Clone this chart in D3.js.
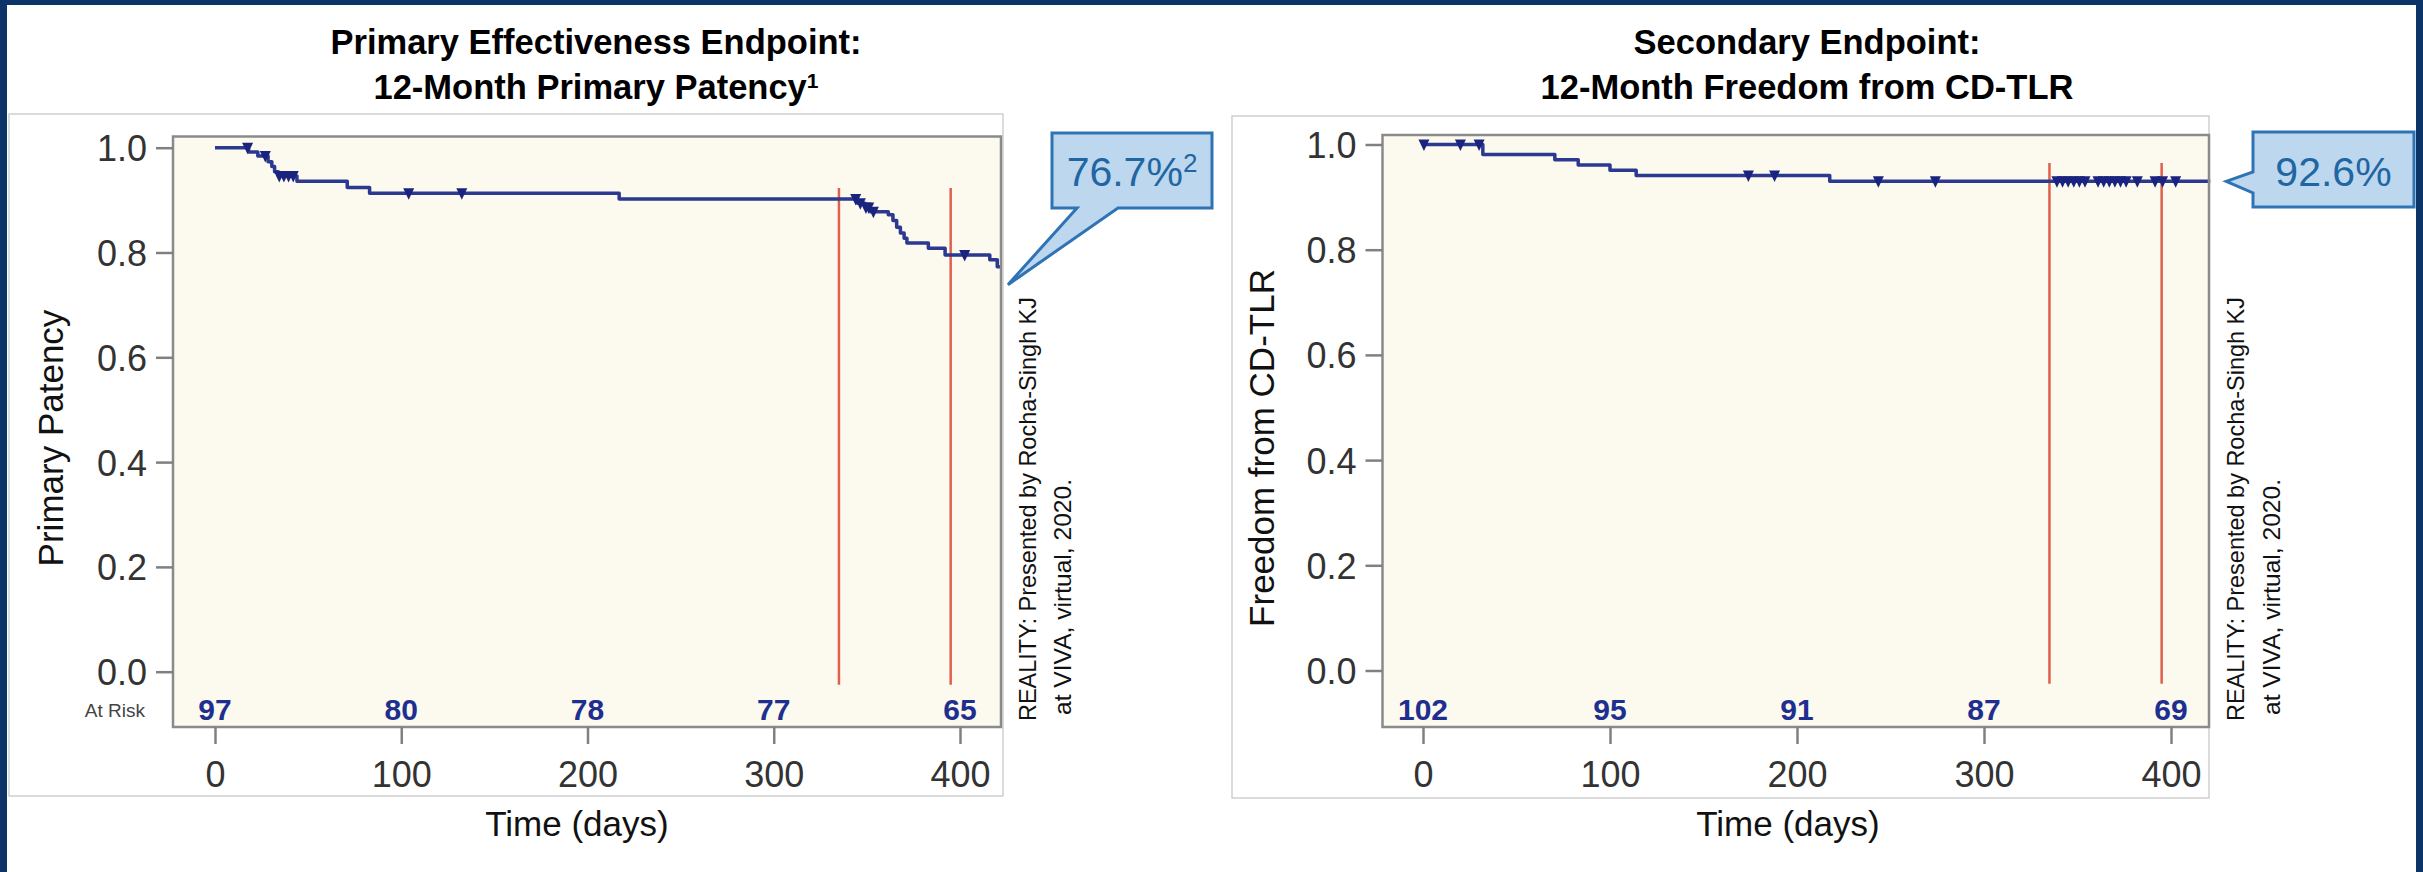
<!DOCTYPE html>
<html><head><meta charset="utf-8">
<script src="https://cdn.jsdelivr.net/npm/d3@7/dist/d3.min.js"></script>
<style>
html,body{margin:0;padding:0;background:#fff;}
svg{display:block;font-family:"Liberation Sans",Arial,Helvetica,sans-serif;}
</style></head><body>
<svg id="c" width="2423" height="872"></svg>
<script>
// ---------- DATA ----------
const riskDays = [0, 100, 200, 300, 400];
const yTicks = [0, 0.2, 0.4, 0.6, 0.8, 1.0];
const windowDays = [335, 395];

// Chart 1: primary patency (Kaplan-Meier steps)
const patencyStepDays = [0, 18, 23, 28.5, 30.5, 32, 34, 44, 71, 83, 217, 345, 349, 352, 361.5, 364, 366, 368, 370, 371.5, 383, 392, 416, 420];
const patencySurvival = [1.000, 0.992, 0.984, 0.973, 0.964, 0.954, 0.946, 0.936, 0.924, 0.913, 0.902, 0.894, 0.886, 0.878, 0.872, 0.861, 0.848, 0.837, 0.827, 0.818, 0.808, 0.795, 0.786, 0.773];
const patencyEndDay = 422;
const patencyCensorDays = [17.5, 27, 34.5, 37, 39.5, 42, 104, 132.5, 344, 346.5, 349.5, 351, 353.5, 402.5];
const patencyAtRisk = [97, 80, 78, 77, 65];
const patencyWindowTop = 0.923;
const patencyLabel = "76.7%";
const patencyLabelSup = "2";

// Chart 2: freedom from CD-TLR
const tlrStepDays = [0, 32, 70.5, 83, 100, 114, 217.5];
const tlrSurvival = [1.000, 0.981, 0.971, 0.961, 0.951, 0.941, 0.930];
const tlrEndDay = 421;
const tlrCensorDays = [0.5, 20, 30, 174, 188, 243.5, 274, 339, 342, 345, 348, 351, 354, 361, 364, 367, 370, 373, 376, 382, 391.5, 395.5, 402.5];
const tlrAtRisk = [102, 95, 91, 87, 69];
const tlrWindowTop = 0.965;
const tlrLabel = "92.6%";
const windowBottom = -0.025;

// ---------- LAYOUT ----------
const svg = d3.select("#c");
const NAVY = "#0c3466";
svg.append("rect").attr("width", 2423).attr("height", 872).attr("fill", "#fff");

const panels = [
  {
    box: [9, 114, 1003, 796],
    plot: [173, 136.5, 1001, 727],
    xr: [215, 960], yr: [671.7, 147.7],
    title1: "Primary Effectiveness Endpoint:", title2: "12-Month Primary Patency", sup: "1", titleX: 596,
    yTitle: "Primary Patency", yTitleX: 63, yTitleY: 438, xTitleX: 577,
    days: patencyStepDays, surv: patencySurvival, endDay: patencyEndDay, censor: patencyCensorDays,
    atRisk: patencyAtRisk, showAtRiskLabel: true, winTop: patencyWindowTop,
    note: [1036, 1071],
    callout: {type: "down", box: [1052, 133, 1212, 208], base: [1077, 1118], label: patencyLabel, sup: patencyLabelSup}
  },
  {
    box: [1232, 116, 2209, 798],
    plot: [1382.5, 135, 2209, 727],
    xr: [1423, 2171], yr: [670.5, 144.5],
    title1: "Secondary Endpoint:", title2: "12-Month Freedom from CD-TLR", sup: null, titleX: 1807,
    yTitle: "Freedom from CD-TLR", yTitleX: 1274, yTitleY: 448, xTitleX: 1788,
    days: tlrStepDays, surv: tlrSurvival, endDay: tlrEndDay, censor: tlrCensorDays,
    atRisk: tlrAtRisk, showAtRiskLabel: false, winTop: tlrWindowTop,
    note: [2244, 2280],
    callout: {type: "left", box: [2253, 132, 2414, 207], base: [172, 193], label: tlrLabel, sup: null}
  }
];

panels.forEach(p => {
  const g = svg.append("g");
  const [bx0, by0, bx1, by1] = p.box;
  g.append("rect").attr("x", bx0).attr("y", by0).attr("width", bx1 - bx0).attr("height", by1 - by0)
    .attr("fill", "#fff").attr("stroke", "#cfcfcf").attr("stroke-width", 1.5);

  const [px0, py0, px1, py1] = p.plot;
  const x = d3.scaleLinear().domain([0, 400]).range(p.xr);
  const y = d3.scaleLinear().domain([0, 1]).range(p.yr);

  // titles
  g.append("text").attr("x", p.titleX).attr("y", 54).attr("text-anchor", "middle")
    .attr("font-size", 34.5).attr("font-weight", "bold").attr("fill", "#000").text(p.title1);
  const t2 = g.append("text").attr("x", p.titleX).attr("y", 99).attr("text-anchor", "middle")
    .attr("font-size", 34.5).attr("font-weight", "bold").attr("fill", "#000");
  t2.append("tspan").text(p.title2);
  if (p.sup) t2.append("tspan").attr("font-size", 21).attr("dy", -11).text(p.sup);

  // plot background
  g.append("rect").attr("x", px0).attr("y", py0).attr("width", px1 - px0).attr("height", py1 - py0)
    .attr("fill", "#fcf9ee");

  // window lines
  windowDays.forEach(d => {
    g.append("line").attr("x1", x(d)).attr("x2", x(d))
      .attr("y1", y(p.winTop)).attr("y2", y(windowBottom))
      .attr("stroke", "#e0604c").attr("stroke-width", 2.5);
  });

  // KM curve
  const pts = p.days.map((d, i) => [d, p.surv[i]]);
  pts.push([p.endDay, p.surv[p.surv.length - 1]]);
  const line = d3.line().x(d => x(d[0])).y(d => y(d[1])).curve(d3.curveStepAfter);
  g.append("path").attr("d", line(pts)).attr("fill", "none")
    .attr("stroke", "#2b3990").attr("stroke-width", 3.5).attr("stroke-linejoin", "round");

  // censor marks
  const survAt = d => p.surv[Math.max(0, d3.bisectRight(p.days, d) - 1)];
  g.selectAll(null).data(p.censor).join("path")
    .attr("transform", d => `translate(${x(d)},${y(survAt(d))})`)
    .attr("d", "M-5.5,-5L5.5,-5L0,6.5Z")
    .attr("fill", "#1a237e");

  // frame
  g.append("rect").attr("x", px0).attr("y", py0).attr("width", px1 - px0).attr("height", py1 - py0)
    .attr("fill", "none").attr("stroke", "#8a8a8a").attr("stroke-width", 2.5);

  // y axis
  const ya = g.append("g").attr("transform", `translate(${px0},0)`)
    .call(d3.axisLeft(y).tickValues(yTicks).tickFormat(d3.format(".1f")).tickSize(17));
  ya.select(".domain").remove();
  ya.selectAll("line").attr("stroke", "#808080").attr("stroke-width", 2.5);
  ya.selectAll("text").attr("x", -26).attr("dy", "0.36em").attr("font-size", 36)
    .attr("fill", "#333").attr("font-family", null);

  // x axis
  const xa = g.append("g").attr("transform", `translate(0,${py1})`)
    .call(d3.axisBottom(x).tickValues(riskDays).tickFormat(d3.format("d")).tickSize(17));
  xa.select(".domain").remove();
  xa.selectAll("line").attr("stroke", "#808080").attr("stroke-width", 2.5);
  xa.selectAll("text").attr("y", 60).attr("dy", 0).attr("font-size", 36)
    .attr("fill", "#333").attr("font-family", null);

  // at risk numbers
  g.selectAll(null).data(riskDays).join("text")
    .attr("x", d => x(d)).attr("y", 720).attr("text-anchor", "middle")
    .attr("font-size", 30).attr("font-weight", "bold").attr("fill", "#1f2f8f")
    .text((d, i) => p.atRisk[i]);
  if (p.showAtRiskLabel) {
    g.append("text").attr("x", 145).attr("y", 717).attr("text-anchor", "end")
      .attr("font-size", 19).attr("fill", "#444").text("At Risk");
  }

  // axis titles
  g.append("text").attr("transform", `translate(${p.yTitleX},${p.yTitleY}) rotate(-90)`)
    .attr("text-anchor", "middle").attr("font-size", 35).attr("fill", "#111").text(p.yTitle);
  g.append("text").attr("x", p.xTitleX).attr("y", 836).attr("text-anchor", "middle")
    .attr("font-size", 35).attr("fill", "#111").text("Time (days)");

  // source note
  const nt = g.append("g").attr("font-size", 24).attr("fill", "#111");
  nt.append("text").attr("transform", `translate(${p.note[0]},721) rotate(-90)`)
    .attr("textLength", 424).attr("lengthAdjust", "spacingAndGlyphs")
    .text("REALITY: Presented by Rocha-Singh KJ");
  nt.append("text").attr("transform", `translate(${p.note[1]},715) rotate(-90)`)
    .attr("textLength", 236).attr("lengthAdjust", "spacingAndGlyphs")
    .text("at VIVA, virtual,  2020.");

  // callout anchored to the curve end
  const c = p.callout;
  const tip = [x(p.endDay) + (c.type === "down" ? 7 : 16), y(p.surv[p.surv.length - 1]) + (c.type === "down" ? 18 : 0)];
  const [cx0, cy0, cx1, cy1] = c.box;
  let poly;
  if (c.type === "down") {
    poly = [[cx0, cy0], [cx1, cy0], [cx1, cy1], [c.base[1], cy1], tip, [c.base[0], cy1], [cx0, cy1]];
  } else {
    poly = [[cx0, cy0], [cx1, cy0], [cx1, cy1], [cx0, cy1], [cx0, c.base[1]], tip, [cx0, c.base[0]]];
  }
  g.append("path").attr("d", "M" + poly.map(q => q.join(",")).join("L") + "Z")
    .attr("fill", "#bdd7ee").attr("stroke", "#2e74b5").attr("stroke-width", 3).attr("stroke-linejoin", "miter");
  const ct = g.append("text").attr("x", (cx0 + cx1) / 2).attr("y", 185.5).attr("text-anchor", "middle")
    .attr("font-size", 41).attr("fill", "#1f66a3");
  ct.append("tspan").text(c.label);
  if (c.sup) ct.append("tspan").attr("font-size", 26).attr("dy", -14).text(c.sup);
});

// slide frame
svg.append("rect").attr("x", 0).attr("y", 0).attr("width", 2423).attr("height", 5).attr("fill", NAVY);
svg.append("rect").attr("x", 0).attr("y", 0).attr("width", 7).attr("height", 872).attr("fill", NAVY);
svg.append("rect").attr("x", 2416).attr("y", 0).attr("width", 7).attr("height", 872).attr("fill", NAVY);
</script>
</body></html>
